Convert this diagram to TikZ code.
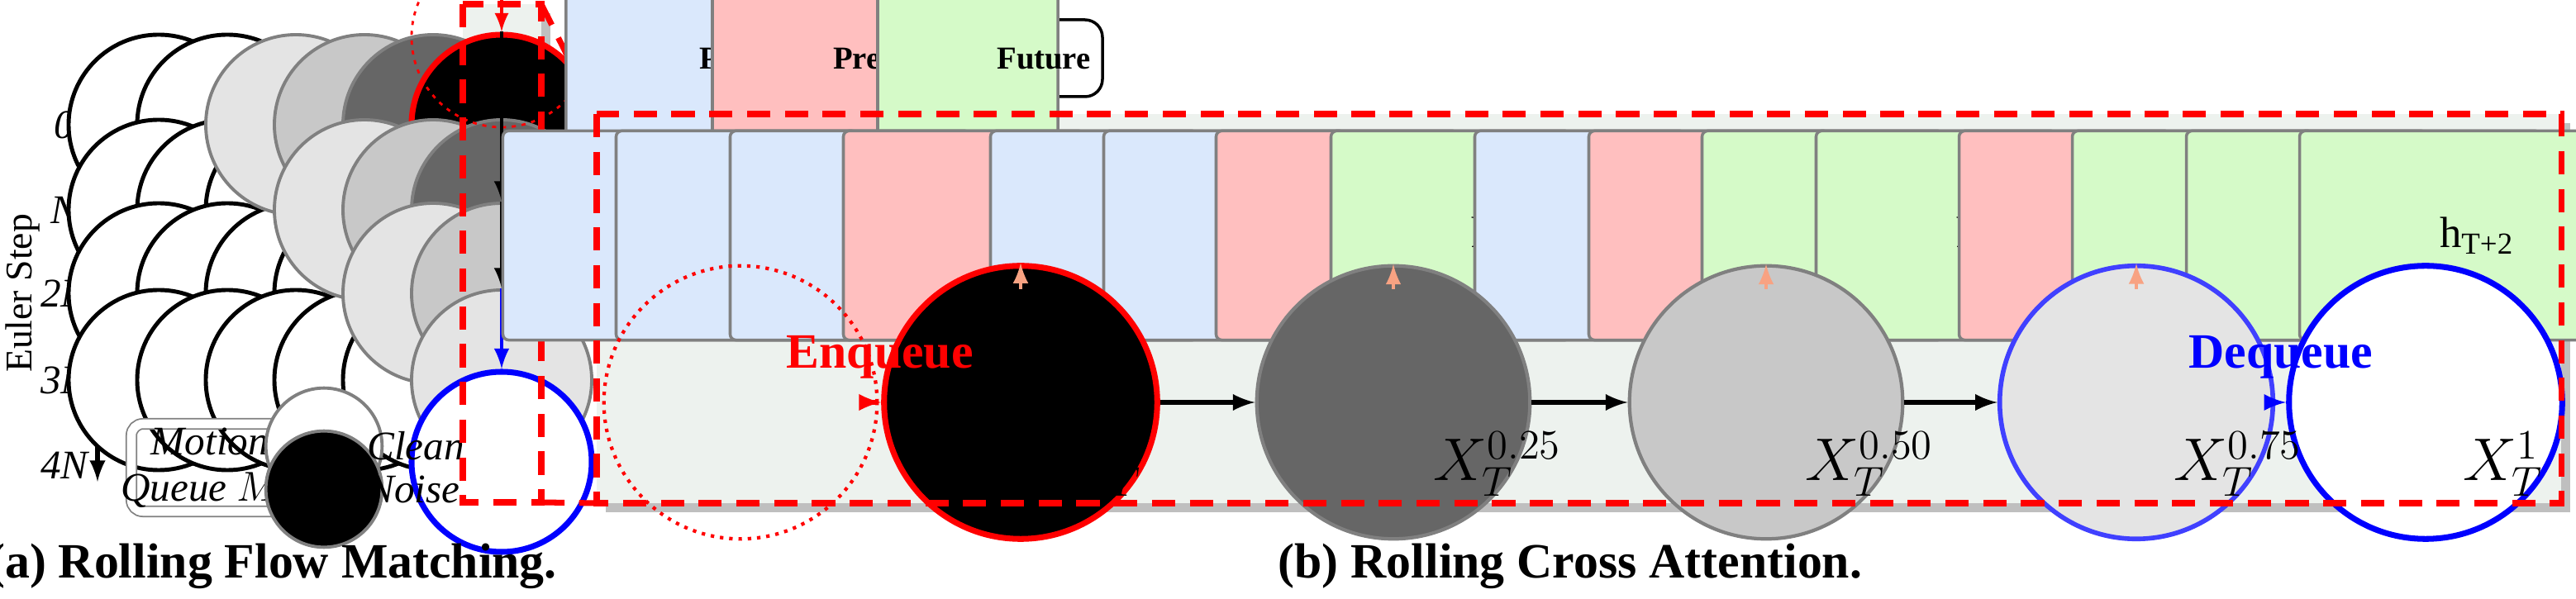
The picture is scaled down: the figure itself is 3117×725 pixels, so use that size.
\documentclass[tikz,border=0pt]{standalone}
\usepackage{amsmath,amssymb}
\usepackage{fontspec}
\setmainfont{Liberation Serif}
\usetikzlibrary{arrows,backgrounds,calc,shadows}
\definecolor{pastc}{HTML}{DAE8FC}
\definecolor{presc}{HTML}{FFBFBF}
\definecolor{futc}{HTML}{D5FAC8}
\definecolor{panel}{HTML}{EDF2EE}
\definecolor{qline}{HTML}{F8A282}
\definecolor{gl}{HTML}{E4E4E4}
\definecolor{gm}{HTML}{C8C8C8}
\definecolor{gd}{HTML}{666666}
\tikzset{
  dot/.style={circle, minimum size=62, inner sep=0, line width=1.4pt, draw},
  gdot/.style={dot, draw=gray, line width=1.1pt},
  bdot/.style={circle, minimum size=94, inner sep=0, line width=1.2pt, draw=gray},
  tile/.style={draw=gray, rounded corners=2pt, line width=1pt, minimum width=122, minimum height=72, inner sep=0, font=\fontsize{15}{15}\selectfont},
  queue/.style={draw=gray, double=white, double distance=3pt, rounded corners=4pt, line width=.5pt},
  hqueue/.style={draw=qline, double=panel, double distance=3pt, rounded corners=4pt, line width=.8pt},
  zoombox/.style={draw=red, line width=2pt, dash pattern=on 8pt off 5pt},
  lab/.style={font=\fontsize{13}{13}\selectfont},
  xlab/.style={font=\fontsize{20}{20}\selectfont, anchor=north west},
  captext/.style={font=\fontsize{17}{17}\selectfont\bfseries}
}
\begin{document}
\begin{tikzpicture}[x=0.01cm, y=-0.01cm]
\useasboundingbox (0,0) rectangle (3117,725);

% panels
\fill[panel, drop shadow={shadow xshift=3pt, shadow yshift=-3pt, opacity=.5}] (560,5) rectangle (655,608);
\fill[panel, drop shadow={shadow xshift=3pt, shadow yshift=-3pt, opacity=.5}] (722,138) rectangle (3099,609);

% (a) rolling flow matching
\node[lab] (mstep) at (265,70) {Model Step};
\coordinate (ms0) at (159,98); \coordinate (ms1) at (530,98);
\draw[line width=1.5pt, -latex] (ms0) -- (ms1);
\coordinate (es0) at (118,121); \coordinate (es1) at (118,583);
\draw[line width=1.5pt, -latex] (es0) -- (es1);
\node[lab, rotate=90] (estep) at (28,355) {Euler Step};
\foreach \r/\y/\t in {0/151/0, 1/254/N, 2/355/2N, 3/460/3N, 4/563/4N}
  \node[lab, font=\fontsize{14}{14}\selectfont\itshape] (row\r) at (78,\y) {\t};

\draw[queue] (315,109) rectangle (650,193);
\draw[queue] (398,212) rectangle (648,296);
\draw[queue] (482,313) rectangle (648,397);
\draw[queue] (566,418) rectangle (648,502);

\foreach \c in {0,1} \node[dot, fill=white] (c0-\c) at (192+83*\c,151) {};
\foreach \c in {0,1,2} \node[dot, fill=white] (c1-\c) at (192+83*\c,254) {};
\foreach \c in {0,1,2,3} \node[dot, fill=white] (c2-\c) at (192+83*\c,355) {};
\foreach \c in {0,1,2,3,4} \node[dot, fill=white] (c3-\c) at (192+83*\c,460) {};

\node[gdot, fill=gl] (c0-2) at (358,151) {};
\node[gdot, fill=gm] (c0-3) at (441,151) {};
\node[gdot, fill=gd] (c0-4) at (524,151) {};
\node[dot, fill=black, draw=red, line width=2pt] (c0-5) at (607,151) {};
\node[gdot, fill=gl] (c1-3) at (441,254) {};
\node[gdot, fill=gm] (c1-4) at (524,254) {};
\node[gdot, fill=gd] (c1-5) at (607,254) {};
\node[gdot, fill=gl] (c2-4) at (524,355) {};
\node[gdot, fill=gm] (c2-5) at (607,355) {};
\node[gdot, fill=gl] (c3-5) at (607,460) {};
\node[dot, draw=blue, line width=2pt, fill=white] (c4-5) at (607,559) {};
\node[dot, draw=red, dotted, line width=.8pt] (c5) at (607,45) {};

\draw[red, line width=1.2pt, -latex] (c5) -- (c0-5);
\draw[line width=1.4pt, -latex] (c0-5) -- (c1-5);
\draw[line width=1.4pt, -latex] (c1-5) -- (c2-5);
\draw[line width=1.4pt, -latex] (c2-5) -- (c3-5);
\draw[blue, line width=1.4pt, -latex] (c3-5) -- (c4-5);

\draw[queue] (159,513) rectangle (349,619);
\node[lab, font=\fontsize{14}{16}\selectfont\itshape, align=center] (mq) at (254,566) {Motion\\Queue $M_T$};
\node[gdot, minimum size=40, fill=white] (clean) at (392,540) {};
\node[gdot, minimum size=40, fill=black] (noise) at (392,592) {};
\node[lab, font=\fontsize{14}{14}\selectfont\itshape, anchor=west] (cleant) at (432,540) {Clean};
\node[lab, font=\fontsize{14}{14}\selectfont\itshape, anchor=west] (noiset) at (432,592) {Noise};

\draw[zoombox] (560,5) rectangle (655,608);
\coordinate (z0) at (655,5); \coordinate (z1) at (722,138);
\coordinate (z2) at (655,608); \coordinate (z3) at (722,609);
\draw[zoombox] (z0) -- (z1);
\draw[zoombox] (z2) -- (z3);
\node[captext] (capa) at (330,685) {(a) Rolling Flow Matching.};

% (b) rolling cross attention
\draw[line width=1pt, rounded corners=6pt] (744,24) rectangle (1334,117);
\node[tile, fill=pastc, minimum width=62, minimum height=62] (lp) at (794,71) {};
\node[font=\fontsize{11}{11}\selectfont\bfseries] (lpt) at (882,71) {Past};
\node[tile, fill=presc, minimum width=62, minimum height=62] (lr) at (971,71) {};
\node[font=\fontsize{11}{11}\selectfont\bfseries] (lrt) at (1070,71) {Present};
\node[tile, fill=futc, minimum width=62, minimum height=62] (lf) at (1171,71) {};
\node[font=\fontsize{11}{11}\selectfont\bfseries] (lft) at (1263,71) {Future};

\draw[hqueue] (739,221) rectangle (1319,348);
\draw[hqueue] (1334,221) rectangle (1912,348);
\draw[hqueue] (1919,221) rectangle (2492,348);
\draw[hqueue] (2506,221) rectangle (3079,348);

\node[lab, font=\fontsize{15}{15}\selectfont\itshape] (q0) at (1003,185) {Hidden-state Queue $H_T$};
\node[lab, font=\fontsize{15}{15}\selectfont] (q1) at (1615,185) {$H_{T+1}$};
\node[lab, font=\fontsize{15}{15}\selectfont] (q2) at (2207,185) {$H_{T+2}$};
\node[lab, font=\fontsize{15}{15}\selectfont] (q3) at (2793,185) {$H_{T+3}$};

\node[tile, fill=pastc] (h0-0) at (823,285) {h\textsubscript{T-3}};
\node[tile, fill=pastc] (h0-1) at (960,285) {h\textsubscript{T-2}};
\node[tile, fill=pastc] (h0-2) at (1098,285) {h\textsubscript{T-1}};
\node[tile, fill=presc] (h0-3) at (1235,285) {h\textsubscript{T}};
\node[tile, fill=pastc] (h1-0) at (1413,285) {h\textsubscript{T-2}};
\node[tile, fill=pastc] (h1-1) at (1550,285) {h\textsubscript{T-1}};
\node[tile, fill=presc] (h1-2) at (1686,285) {h\textsubscript{T}};
\node[tile, fill=futc] (h1-3) at (1825,285) {h\textsubscript{T+1}};
\node[tile, fill=pastc] (h2-0) at (1999,285) {h\textsubscript{T-1}};
\node[tile, fill=presc] (h2-1) at (2137,285) {h\textsubscript{T}};
\node[tile, fill=futc] (h2-2) at (2274,285) {h\textsubscript{T+1}};
\node[tile, fill=futc] (h2-3) at (2412,285) {h\textsubscript{T+2}};
\node[tile, fill=presc] (h3-0) at (2585,285) {h\textsubscript{T}};
\node[tile, fill=futc] (h3-1) at (2722,285) {h\textsubscript{T+1}};
\node[tile, fill=futc] (h3-2) at (2860,285) {h\textsubscript{T+1}};
\node[tile, fill=futc] (h3-3) at (2997,285) {h\textsubscript{T+2}};

\node[bdot, draw=red, dotted, line width=1.2pt] (xs) at (896,487) {};
\node[bdot, fill=black, draw=red, line width=2pt] (x0) at (1235,487) {};
\node[bdot, fill=gd] (x1) at (1686,487) {};
\node[bdot, fill=gm] (x2) at (2137,487) {};
\node[bdot, fill=gl, draw=blue!75, line width=1.6pt] (x3) at (2585,487) {};
\node[bdot, fill=white, draw=blue, line width=2pt] (x4) at (2935,487) {};

\coordinate (a0) at (1235,350); \coordinate (a1) at (1686,350);
\coordinate (a2) at (2137,350); \coordinate (a3) at (2585,350);
\draw[qline, line width=1.4pt, -latex] (a0) -- (x0);
\draw[qline, line width=1.4pt, -latex] (a1) -- (x1);
\draw[qline, line width=1.4pt, -latex] (a2) -- (x2);
\draw[qline, line width=1.4pt, -latex] (a3) -- (x3);

\draw[red, line width=1.6pt, -latex] (xs) -- node[above=4pt, font=\fontsize{17}{17}\selectfont\bfseries] {Enqueue} (x0);
\draw[line width=1.6pt, -latex] (x0) -- (x1);
\draw[line width=1.6pt, -latex] (x1) -- (x2);
\draw[line width=1.6pt, -latex] (x2) -- (x3);
\draw[blue, line width=1.6pt, -latex] (x3) -- node[above=4pt, font=\fontsize{17}{17}\selectfont\bfseries] {Dequeue} (x4);

\node[xlab] (lx0) at (1272,510) {$X_T^{0}$};
\node[xlab] (lx1) at (1722,510) {$X_T^{0.25}$};
\node[xlab] (lx2) at (2172,510) {$X_T^{0.50}$};
\node[xlab] (lx3) at (2618,510) {$X_T^{0.75}$};
\node[xlab] (lx4) at (2968,510) {$X_T^{1}$};

\draw[zoombox] (722,138) rectangle (3099,609);
\node[captext] (capb) at (1900,685) {(b) Rolling Cross Attention.};
\end{tikzpicture}
\end{document}
